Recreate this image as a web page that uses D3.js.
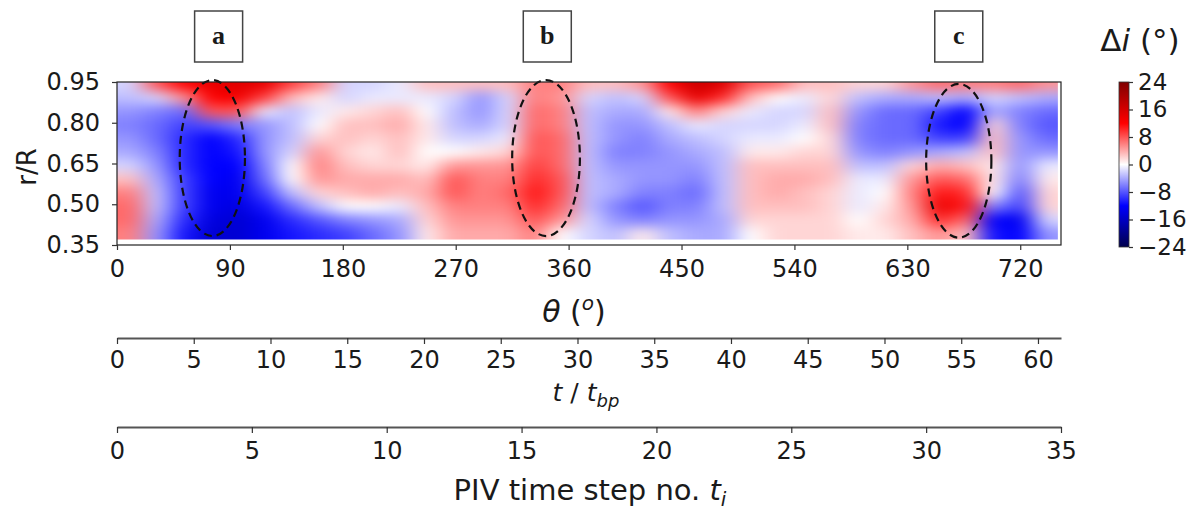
<!DOCTYPE html>
<html>
<head>
<meta charset="utf-8">
<script src="https://cdn.jsdelivr.net/npm/d3@7"></script>
<style>
  body { margin: 0; background: #fff; }
  svg { display: block; }
  text { font-family: "DejaVu Sans", sans-serif; fill: #1a1a1a; }
</style>
</head>
<body>
<svg id="chart" width="1199" height="510"></svg>
<script>
// ---------------- DATA ----------------
// angular bin centres (deg) – one per PIV time step, bin width 21.5 deg
const thetaCenters = [10.75, 32.25, 53.75, 75.25, 96.75, 118.25, 139.75, 161.25, 182.75, 204.25,
  225.75, 247.25, 268.75, 290.25, 311.75, 333.25, 354.75, 376.25, 397.75, 419.25,
  440.75, 462.25, 483.75, 505.25, 526.75, 548.25, 569.75, 591.25, 612.75, 634.25,
  655.75, 677.25, 698.75, 720.25, 741.75];
const thetaBinWidth = 21.5;
const thetaMax = 752.5;
// radial bin centres (r/R), top to bottom
const rCenters = [0.94, 0.89, 0.84, 0.79, 0.74, 0.69, 0.64, 0.59, 0.54, 0.49, 0.44, 0.39];
const rBinHeight = 0.05;
const rMin = 0.37;
// incidence change Δi (deg); rows follow rCenters, columns follow thetaCenters
const deltaI = [
  [-2, 8, 12, 14, 15, 14, 9, 6, -2, -2, -1, 3, 3, 3, 3, 6, 6, 3, 3, 5, 12, 17, 15, 8, 7, 3, 3, 2, 2, 5, 7, 6, 6, 7, 5],
  [-3, -2, 5, 12, 13, 9, 3, 1, -2, -1, -1, -1, -2, -5, -2, 6, 5, -2, -3, -2, 8, 14, 10, 3, 0, -1, 2, -3, -4, -4, -3, -4, -2, -3, -4],
  [-5, -6, -7, 8, 8, -1, -3, -1, 1, 2, 3, 0, -3, -5, -2, 7, 6, -3, -4, -4, 1, 6, 2, -1, -2, -2, 3, -5, -7, -7, -9, -12, -4, -6, -7],
  [-6, -7, -9, -8, -6, -5, -3, 0, 3, 3, 4, 1, -3, -4, -2, 7, 6, -3, -5, -5, -3, -1, -2, -2, -2, -1, 3, -6, -7, -7, -11, -12, 2, -6, -8],
  [-5, -7, -10, -12, -10, -5, -3, 2, 3, 2, 3, 1, -2, -2, -1, 8, 7, -3, -5, -6, -4, -3, -2, -1, -1, 0, 2, -6, -7, -7, -9, -9, 3, -5, -7],
  [-4, -6, -10, -12, -11, -5, -2, 5, 2, 1, 3, 0, 0, 1, 2, 8, 7, -3, -6, -6, -5, -4, -3, 1, 1, 2, 2, -5, -6, -5, -4, -3, 3, -5, -5],
  [-2, -5, -10, -12, -12, -6, 0, 6, 3, 2, 2, 1, 5, 5, 5, 9, 7, -3, -5, -5, -5, -5, -3, 3, 3, 3, 3, -3, -3, 2, 4, 3, 1, -5, -1],
  [3, -4, -9, -12, -13, -7, 0, 5, 4, 4, 4, 3, 8, 6, 6, 10, 8, -3, -4, -5, -5, -6, -3, 3, 4, 4, 3, -1, -1, 5, 8, 7, 1, -6, 1],
  [6, -3, -9, -13, -13, -9, -3, 2, 3, 4, 3, 4, 8, 6, 7, 11, 8, -3, -4, -6, -6, -7, -3, 3, 4, 3, 2, -1, 0, 6, 11, 10, 0, -8, 2],
  [7, -3, -9, -13, -14, -11, -7, -3, 0, 0, -1, 3, 6, 6, 6, 10, 7, -3, -6, -8, -6, -6, -3, 3, 3, 3, 2, -1, 1, 5, 14, 11, -6, -9, 2],
  [7, -4, -10, -14, -15, -13, -10, -8, -6, -5, -4, 2, 5, 5, 5, 8, 5, -2, -5, -6, -5, -5, -4, 2, 2, 2, 2, 0, 2, 4, 10, 7, -12, -13, -2],
  [6, -5, -11, -15, -15, -13, -11, -10, -9, -7, -5, 1, 4, 4, 4, 6, 0, -2, -3, 1, -3, -4, -4, 0, 2, 2, 2, 1, 1, 3, 5, 3, -11, -12, -5]
];
// axis ticks
const thetaTicks = [0, 90, 180, 270, 360, 450, 540, 630, 720];
const rTicks = [0.35, 0.50, 0.65, 0.80, 0.95];
const tbpTicks = [0, 5, 10, 15, 20, 25, 30, 35, 40, 45, 50, 55, 60];
const tbpMax = 61.5;
const pivTicks = [0, 5, 10, 15, 20, 25, 30, 35];
const pivMax = 35;
const cbTicks = [24, 16, 8, 0, -8, -16, -24];
const cbDomain = [-24, 24];
// annotations (data units)
const markerLabels = ["a", "b", "c"];
const markerTheta = [76, 342, 671];
const markerR = [0.67, 0.67, 0.66];
const markerHalfTheta = [26, 27, 26];
const markerHalfR = [0.287, 0.287, 0.283];
const boxTheta = [81, 343, 671];

// ---------------- CHART ----------------
const svg = d3.select("#chart");
const defs = svg.append("defs");

const x = d3.scaleLinear().domain([0, thetaMax]).range([117, 1061]);
const y = d3.scaleLinear().domain([0.35, 0.95]).range([245, 82]);
const color = d3.scaleLinear()
  .domain([-24, -12, 0, 12, 24])
  .range(["rgb(0,0,77)", "rgb(0,0,255)", "rgb(255,255,255)", "rgb(255,0,0)", "rgb(128,0,0)"])
  .clamp(true);

// blur filter to mimic smooth shading
const f = defs.append("filter").attr("id", "smooth")
  .attr("x", "-5%").attr("y", "-10%").attr("width", "110%").attr("height", "120%")
  .attr("color-interpolation-filters", "sRGB");
f.append("feGaussianBlur").attr("stdDeviation", "11 6");

defs.append("clipPath").attr("id", "plotclip").append("rect")
  .attr("x", x(0)).attr("y", y(0.95))
  .attr("width", x(750) - x(0)).attr("height", y(rMin) - y(0.95));

const cells = [];
rCenters.forEach((r, i) => thetaCenters.forEach((t, j) => {
  cells.push({ r, t, v: deltaI[i][j], i, j });
}));
const nI = rCenters.length, nJ = thetaCenters.length;

const heat = svg.append("g").attr("clip-path", "url(#plotclip)")
  .append("g").attr("filter", "url(#smooth)");
heat.selectAll("rect").data(cells).join("rect")
  .attr("x", d => x(d.t - thetaBinWidth / 2) - (d.j === 0 ? 30 : 0.5))
  .attr("width", d => x(d.t + thetaBinWidth / 2) - x(d.t - thetaBinWidth / 2) + 1 + (d.j === 0 ? 30 : 0) + (d.j === nJ - 1 ? 30 : 0))
  .attr("y", d => y(d.r + rBinHeight / 2) - (d.i === 0 ? 20 : 0.5))
  .attr("height", d => y(d.r - rBinHeight / 2) - y(d.r + rBinHeight / 2) + 1 + (d.i === 0 ? 20 : 0) + (d.i === nI - 1 ? 20 : 0))
  .attr("fill", d => color(d.v));

// dashed ellipses
svg.append("g").selectAll("ellipse").data(markerLabels).join("ellipse")
  .attr("cx", (d, k) => x(markerTheta[k]))
  .attr("cy", (d, k) => y(markerR[k]))
  .attr("rx", (d, k) => x(markerTheta[k] + markerHalfTheta[k]) - x(markerTheta[k]))
  .attr("ry", (d, k) => y(markerR[k] - markerHalfR[k]) - y(markerR[k]))
  .attr("fill", "none").attr("stroke", "#111").attr("stroke-width", 2.2)
  .attr("stroke-dasharray", "8 5");

// frame
svg.append("rect").attr("x", x(0)).attr("y", y(0.95))
  .attr("width", x(thetaMax) - x(0)).attr("height", y(0.35) - y(0.95))
  .attr("fill", "none").attr("stroke", "#222").attr("stroke-width", 1.2);

function styleAxis(g, fs) {
  g.selectAll("text").style("font-size", fs + "px").attr("fill", "#1a1a1a");
  g.selectAll(".tick line").attr("stroke", "#333").attr("stroke-width", 1.2);
}

// theta axis
const gx = svg.append("g").attr("transform", `translate(0,${y(0.35)})`)
  .call(d3.axisBottom(x).tickValues(thetaTicks).tickSize(5).tickPadding(10).tickFormat(d3.format("d")));
gx.select(".domain").remove();
styleAxis(gx, 24);

// r axis
const gy = svg.append("g").attr("transform", `translate(${x(0)},0)`)
  .call(d3.axisLeft(y).tickValues(rTicks).tickSize(5).tickPadding(12).tickFormat(d3.format(".2f")));
gy.select(".domain").remove();
styleAxis(gy, 24);

// t / t_bp axis
const xt = d3.scaleLinear().domain([0, tbpMax]).range([117, 1061]);
const gt = svg.append("g").attr("transform", "translate(0,338)")
  .call(d3.axisBottom(xt).tickValues(tbpTicks).tickSize(6).tickSizeOuter(0).tickPadding(7));
gt.select(".domain").attr("stroke", "#555").attr("stroke-width", 1.8);
styleAxis(gt, 24);

// PIV step axis
const xp = d3.scaleLinear().domain([0, pivMax]).range([117, 1061]);
const gp = svg.append("g").attr("transform", "translate(0,427)")
  .call(d3.axisBottom(xp).tickValues(pivTicks).tickSize(6).tickSizeOuter(0).tickPadding(9));
gp.select(".domain").attr("stroke", "#555").attr("stroke-width", 1.8);
styleAxis(gp, 24);

// axis titles
svg.append("text").attr("transform", "translate(27,167) rotate(-90)")
  .attr("text-anchor", "middle").attr("dominant-baseline", "central")
  .style("font-size", "26px").text("r/R");

const thT = svg.append("text").attr("x", 574).attr("y", 322)
  .attr("text-anchor", "middle").style("font-size", "30px");
thT.append("tspan").attr("font-style", "italic").text("θ");
thT.append("tspan").text(" (");
thT.append("tspan").attr("font-style", "italic").style("font-size", "20px").attr("dy", -12).text("o");
thT.append("tspan").attr("dy", 12).text(")");

const tT = svg.append("text").attr("x", 586).attr("y", 401)
  .attr("text-anchor", "middle").style("font-size", "25px");
tT.append("tspan").attr("font-style", "italic").text("t");
tT.append("tspan").text(" / ");
tT.append("tspan").attr("font-style", "italic").text("t");
tT.append("tspan").attr("font-style", "italic").style("font-size", "18px").attr("dy", 6).text("bp");

const pT = svg.append("text").attr("x", 590).attr("y", 500)
  .attr("text-anchor", "middle").style("font-size", "29px");
pT.append("tspan").text("PIV time step no. ");
pT.append("tspan").attr("font-style", "italic").text("t");
pT.append("tspan").attr("font-style", "italic").style("font-size", "20px").attr("dy", 6).text("i");

// colour bar
const cy = d3.scaleLinear().domain(cbDomain).range([247, 82]);
const grad = defs.append("linearGradient").attr("id", "cbgrad")
  .attr("x1", 0).attr("y1", 1).attr("x2", 0).attr("y2", 0);
grad.selectAll("stop").data(color.domain()).join("stop")
  .attr("offset", d => (d - cbDomain[0]) / (cbDomain[1] - cbDomain[0]))
  .attr("stop-color", d => color(d));
svg.append("rect").attr("x", 1119).attr("y", cy(24)).attr("width", 10)
  .attr("height", cy(-24) - cy(24)).attr("fill", "url(#cbgrad)")
  .attr("stroke", "#333").attr("stroke-width", 0.8);
const gc = svg.append("g").attr("transform", "translate(1129,0)")
  .call(d3.axisRight(cy).tickValues(cbTicks).tickSize(4).tickPadding(5));
gc.select(".domain").remove();
styleAxis(gc, 23);

const ct = svg.append("text").attr("x", 1140).attr("y", 51)
  .attr("text-anchor", "middle").style("font-size", "31px");
ct.append("tspan").text("Δ");
ct.append("tspan").attr("font-style", "italic").text("i");
ct.append("tspan").text(" (°)");

// label boxes
const boxes = svg.append("g").selectAll("g").data(markerLabels).join("g")
  .attr("transform", (d, k) => `translate(${x(boxTheta[k])},36)`);
boxes.append("rect").attr("x", -24).attr("y", -25).attr("width", 48).attr("height", 51)
  .attr("fill", "#fff").attr("stroke", "#444").attr("stroke-width", 1.5);
boxes.append("text").attr("text-anchor", "middle").attr("y", 8)
  .style("font-family", "'Liberation Serif', 'DejaVu Serif', serif")
  .style("font-weight", "bold").style("font-size", "26px").text(d => d);
</script>
</body>
</html>
